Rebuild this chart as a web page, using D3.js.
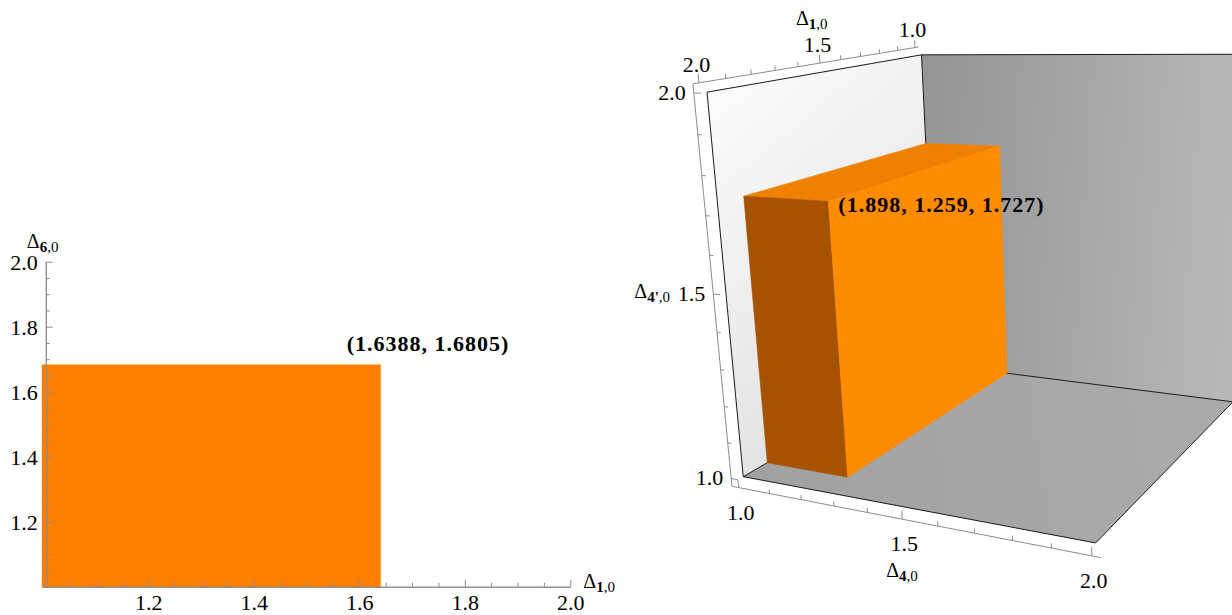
<!DOCTYPE html>
<html><head><meta charset="utf-8">
<script src="https://cdn.jsdelivr.net/npm/d3@7"></script>
<style>
body{margin:0;background:#fff;}
svg{display:block;}
text{font-family:"Liberation Serif","Times New Roman",Times,serif;fill:#000;}
</style>
</head><body>
<svg id="c" width="1232" height="615"></svg>
<script>
// ================= DATA =================
// Left (2D) chart
const leftDomain = [1, 2];
const leftMajorTicks = [1.2, 1.4, 1.6, 1.8, 2.0];
const leftTickLabels = ["1.2", "1.4", "1.6", "1.8", "2.0"];
const leftMinorStep = 0.05;
const leftCorner = [1.6388, 1.6805];          // [Δ1,0 , Δ6,0]
const leftCornerLabel = "(1.6388, 1.6805)";
const leftXTitle = "1";   // Δ_{1,0}
const leftYTitle = "6";   // Δ_{6,0}

// Right (3D) chart
const cubeDomain = [1, 2];
const boxCorner = [1.898, 1.259, 1.727];      // [Δ1,0 , Δ4,0 , Δ4',0]
const boxCornerLabel = "(1.898, 1.259, 1.727)";
const axis3dMajor = [1.0, 1.5, 2.0];
const axis3dLabels = ["1.0", "1.5", "2.0"];
const axis3dMinorStep = 0.1;

// ================= SETUP =================
const svg = d3.select("#c");
const ORANGE = "#ff8000";
const AXIS = "#8c8c8c";

function deltaTitle(g, x, y, sub, anchor) {
  const t = g.append("text").attr("x", x).attr("y", y).attr("font-size", 20)
    .attr("text-anchor", anchor || "start");
  t.append("tspan").text("Δ");
  t.append("tspan").attr("font-size", 15).attr("font-weight", "bold").attr("dy", 4).text(sub);
  t.append("tspan").attr("font-size", 15).text(",0");
  return t;
}

// ================= LEFT CHART =================
const L = svg.append("g");
const xL = d3.scaleLinear().domain(leftDomain).range([42.8, 570.3]);
const yL = d3.scaleLinear().domain(leftDomain).range([586.7, 261.7]);
const minorL = d3.range(leftDomain[0] + leftMinorStep, leftDomain[1] + 1e-9, leftMinorStep)
  .filter(v => !leftMajorTicks.some(m => Math.abs(m - v) < 1e-6));

L.append("rect")
  .attr("x", xL(leftDomain[0])).attr("y", yL(leftCorner[1]))
  .attr("width", xL(leftCorner[0]) - xL(leftDomain[0]))
  .attr("height", yL(leftDomain[0]) - yL(leftCorner[1]))
  .attr("fill", ORANGE).attr("stroke", ORANGE).attr("stroke-width", 2);

// x axis
L.append("g").attr("transform", `translate(0,${yL(leftDomain[0])})`)
  .call(d3.axisBottom(xL).tickValues(minorL).tickSizeInner(-4).tickSizeOuter(0).tickFormat(""));
const xMaj = L.append("g").attr("transform", `translate(0,${yL(leftDomain[0])})`)
  .call(d3.axisBottom(xL).tickValues(leftMajorTicks).tickSizeInner(-7).tickSizeOuter(0)
    .tickFormat((d, i) => leftTickLabels[i]));
// y axis (drawn slightly right of x=1, as in the reference)
const yAxX = xL(leftDomain[0]) + 3;
L.append("g").attr("transform", `translate(${yAxX},0)`)
  .call(d3.axisLeft(yL).tickValues(minorL).tickSizeInner(-4).tickSizeOuter(0).tickFormat(""));
const yMaj = L.append("g").attr("transform", `translate(${yAxX},0)`)
  .call(d3.axisLeft(yL).tickValues(leftMajorTicks).tickSizeInner(-7).tickSizeOuter(0)
    .tickFormat((d, i) => leftTickLabels[i]));

L.selectAll(".domain").attr("stroke", AXIS);
L.selectAll(".tick line").attr("stroke", AXIS);
L.selectAll(".tick text").attr("font-family", '"Liberation Serif","Times New Roman",serif')
  .attr("font-size", 22).attr("fill", "#000");
xMaj.selectAll(".tick text").attr("y", 23.5).attr("dy", 0);
yMaj.selectAll(".tick text").attr("x", -8).attr("dy", "0.34em");

deltaTitle(L, xL(leftDomain[1]) + 13, yL(leftDomain[0]) + 1, leftXTitle);
deltaTitle(L, yAxX - 19, yL(leftDomain[1]) - 14, leftYTitle);

L.append("text")
  .attr("x", xL(leftCorner[0]) - 33).attr("y", yL(leftCorner[1]) - 15)
  .attr("font-size", 22).attr("font-weight", "bold").attr("letter-spacing", 1)
  .text(leftCornerLabel);

// ================= RIGHT CHART (3D) =================
// normalised scales for each coordinate (Δ4,0 ; Δ1,0 ; Δ4',0)
const s4 = d3.scaleLinear().domain(cubeDomain).range([0, 1]);
const s1 = d3.scaleLinear().domain(cubeDomain).range([0, 1]);
const sp = d3.scaleLinear().domain(cubeDomain).range([0, 1]);

const [bD1, bD4, bD4p] = boxCorner;
// camera calibration: cube corners / box corners -> picture position
const calib = [
  [[1, 2, 2], [707, 92]],
  [[1, 1, 2], [921, 55]],
  [[1, 1, 1], [935, 364]],
  [[1, 2, 1], [743, 477]],
  [[2, 2, 1], [1095, 543]],
  [[2, 1, 1], [1233, 402]],
  [[1, bD1, bD4p], [744, 196]],
  [[bD4, bD1, bD4p], [828, 201]],
  [[bD4, 1, bD4p], [1000, 146]],
  [[1, 1, bD4p], [926, 144]],
  [[bD4, bD1, 1], [848, 477]],
  [[1, bD1, 1], [768, 463]],
  [[bD4, 1, 1], [1008, 373]]
];

function fitCamera(cal) {
  const rows = [], rhs = [];
  cal.forEach(([P, [u, v]]) => {
    const X = s4(P[0]), Y = s1(P[1]), Z = sp(P[2]);
    const U = (u - 900) / 300, V = (v - 300) / 300;
    rows.push([X, Y, Z, 1, 0, 0, 0, 0, -U * X, -U * Y, -U * Z]); rhs.push(U);
    rows.push([0, 0, 0, 0, X, Y, Z, 1, -V * X, -V * Y, -V * Z]); rhs.push(V);
  });
  const n = 11;
  const M = Array.from({length: n}, () => new Array(n + 1).fill(0));
  rows.forEach((r, k) => {
    for (let i = 0; i < n; i++) {
      for (let j = 0; j < n; j++) M[i][j] += r[i] * r[j];
      M[i][n] += r[i] * rhs[k];
    }
  });
  for (let c = 0; c < n; c++) {
    let p = c;
    for (let r = c + 1; r < n; r++) if (Math.abs(M[r][c]) > Math.abs(M[p][c])) p = r;
    [M[c], M[p]] = [M[p], M[c]];
    for (let r = 0; r < n; r++) {
      if (r === c) continue;
      const f = M[r][c] / M[c][c];
      for (let j = c; j <= n; j++) M[r][j] -= f * M[c][j];
    }
  }
  const h = M.map((row, i) => row[n] / row[i]);
  return (X, Y, Z) => {
    const w = h[8] * X + h[9] * Y + h[10] * Z + 1;
    return [(h[0] * X + h[1] * Y + h[2] * Z + h[3]) / w * 300 + 900,
            (h[4] * X + h[5] * Y + h[6] * Z + h[7]) / w * 300 + 300];
  };
}
const cam = fitCamera(calib);
// P(Δ4, Δ1, Δ4')
const P = (d4, d1, d4p) => cam(s4(d4), s1(d1), sp(d4p));
const poly = pts => d3.line()(pts) + "Z";

const R = svg.append("g");
const defs = svg.append("defs");
function grad(id, a, b, c0, c1) {
  const g = defs.append("linearGradient").attr("id", id).attr("gradientUnits", "userSpaceOnUse")
    .attr("x1", a[0]).attr("y1", a[1]).attr("x2", b[0]).attr("y2", b[1]);
  g.append("stop").attr("offset", 0).attr("stop-color", c0);
  g.append("stop").attr("offset", 1).attr("stop-color", c1);
}
const [lo, hi] = cubeDomain;
grad("gLeft", P(lo, hi, hi), P(lo, lo, lo), "#fbfbfb", "#e1e1e1");
grad("gBack", P(lo, lo, 1.5), P(hi, lo, 1.5), "#969696", "#b8b8b8");
grad("gFloor", P(lo, hi, lo), P(hi, lo, lo), "#a1a1a1", "#ababab");

// walls
R.append("path").attr("d", poly([P(lo, lo, lo), P(hi, lo, lo), P(hi, lo, hi), P(lo, lo, hi)]))
  .attr("fill", "url(#gBack)");
R.append("path").attr("d", poly([P(lo, lo, lo), P(hi, lo, lo), P(hi, hi, lo), P(lo, hi, lo)]))
  .attr("fill", "url(#gFloor)");
R.append("path").attr("d", poly([P(lo, lo, lo), P(lo, hi, lo), P(lo, hi, hi), P(lo, lo, hi)]))
  .attr("fill", "url(#gLeft)");
// wall edges
const edges = [
  [[lo, hi, hi], [lo, lo, hi]], [[lo, hi, hi], [lo, hi, lo]], [[lo, lo, hi], [lo, lo, lo]],
  [[lo, hi, lo], [lo, lo, lo]], [[lo, hi, lo], [hi, hi, lo]], [[hi, hi, lo], [hi, lo, lo]],
  [[lo, lo, lo], [hi, lo, lo]], [[lo, lo, hi], [hi, lo, hi]]
];
R.selectAll("path.edge").data(edges).join("path").attr("class", "edge")
  .attr("d", e => d3.line()(e.map(p => P(...p))))
  .attr("stroke", "#1a1a1a").attr("stroke-width", 1).attr("fill", "none");

// orange box
const faces = [
  {pts: [[lo, lo, bD4p], [bD4, lo, bD4p], [bD4, bD1, bD4p], [lo, bD1, bD4p]], fill: "#f08000"},
  {pts: [[lo, bD1, lo], [bD4, bD1, lo], [bD4, bD1, bD4p], [lo, bD1, bD4p]], fill: "#a65300"},
  {pts: [[bD4, lo, lo], [bD4, bD1, lo], [bD4, bD1, bD4p], [bD4, lo, bD4p]], fill: "#ff8c00"}
];
R.selectAll("path.face").data(faces).join("path").attr("class", "face")
  .attr("d", f => poly(f.pts.map(p => P(...p))))
  .attr("fill", f => f.fill).attr("stroke", f => f.fill).attr("stroke-width", 0.6);

// axes
const pad = 0.022, tMaj = 0.022, tMin = 0.012;
const minor3 = d3.range(lo, hi + 1e-9, axis3dMinorStep);
const axesSpec = [
  {sub: "4'", at: v => [lo - pad, hi + pad, v], tick: (v, L) => [lo - pad + L, hi + pad, v],
   lab: [-8, 7], anchor: "end", title: [-79, 4]},
  {sub: "4", at: v => [v, hi + pad, lo - pad], tick: (v, L) => [v, hi + pad, lo - pad + L],
   lab: [2, 32], anchor: "middle", title: [-16, 58]},
  {sub: "1", at: v => [lo - pad, v, hi + pad], tick: (v, L) => [lo - pad, v, hi + pad + L],
   lab: [-2.5, -11], anchor: "middle", title: [-24, -38]}
];
axesSpec.forEach(ax => {
  const g = R.append("g");
  g.append("path").attr("d", d3.line()([P(...ax.at(lo - pad)), P(...ax.at(hi + pad))]))
    .attr("stroke", AXIS).attr("fill", "none");
  minor3.forEach(v => {
    const isMaj = axis3dMajor.some(m => Math.abs(m - v) < 1e-6);
    g.append("path").attr("d", d3.line()([P(...ax.at(v)), P(...ax.tick(v, isMaj ? tMaj : tMin))]))
      .attr("stroke", AXIS).attr("fill", "none");
  });
  axis3dMajor.forEach((v, i) => {
    const q = P(...ax.at(v));
    g.append("text").attr("x", q[0] + ax.lab[0]).attr("y", q[1] + ax.lab[1])
      .attr("font-size", 22).attr("text-anchor", ax.anchor).text(axis3dLabels[i]);
  });
  const m = P(...ax.at(axis3dMajor[1]));
  deltaTitle(g, m[0] + ax.title[0], m[1] + ax.title[1], ax.sub);
});

const lp = P(bD4, bD1, bD4p);
R.append("text").attr("x", lp[0] + 10).attr("y", lp[1] + 11)
  .attr("font-size", 22).attr("font-weight", "bold").attr("letter-spacing", 1)
  .text(boxCornerLabel);
</script>
</body></html>
